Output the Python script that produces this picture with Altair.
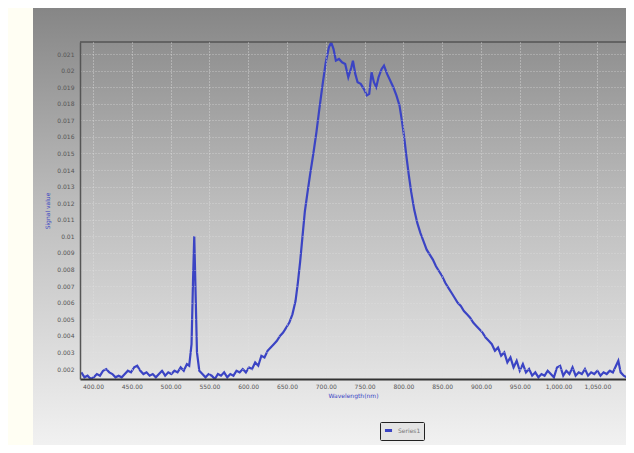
import altair as alt
import pandas as pd

wavelength = [385, 389, 393, 397, 401, 405, 409, 413, 417, 421, 425, 429, 433, 437, 441, 445, 449, 453, 457, 461,
              465, 469, 473, 477, 481, 485, 489, 493, 497, 501, 505, 509, 513, 517, 521, 524, 527, 529, 530.5, 532,
              534, 537, 541, 545, 549, 553, 557, 561, 565, 569, 573, 577, 581, 585, 589, 593, 597, 601, 605, 609,
              613, 617, 621, 625, 629, 633, 637, 641, 645, 649, 653, 657, 661, 664, 667, 670, 673, 676, 680, 684,
              688, 692, 696, 700, 704, 707, 710, 713, 717, 721, 725, 729, 733, 735, 738, 741, 745, 749, 753, 756,
              759, 762, 765, 768, 772, 775, 779, 783, 787, 791, 795, 798, 801, 804, 807, 810, 814, 818, 822, 826,
              830, 834, 838, 842, 846, 850, 854, 858, 862, 866, 870, 874, 878, 882, 886, 890, 894, 898, 902, 906,
              910, 914, 918, 922, 926, 930, 934, 938, 942, 946, 950, 954, 958, 962, 966, 970, 974, 978, 982, 986,
              990, 994, 998, 1002, 1006, 1010, 1014, 1018, 1022, 1026, 1030, 1034, 1038, 1042, 1046, 1050, 1054,
              1058, 1062, 1066, 1070, 1074, 1077, 1080, 1084, 1088]
signal = [0.0018, 0.0015, 0.0016, 0.0014, 0.0015, 0.0017, 0.0016, 0.0019, 0.0020, 0.0018, 0.0017, 0.0015, 0.0016,
          0.0015, 0.0017, 0.0019, 0.0018, 0.0021, 0.0022, 0.0019, 0.0017, 0.0018, 0.0016, 0.0017, 0.0015, 0.0017,
          0.0019, 0.0016, 0.0018, 0.0017, 0.0019, 0.0018, 0.0021, 0.0019, 0.0023, 0.0022, 0.0035, 0.0075, 0.0100,
          0.0070, 0.0030, 0.0019, 0.0017, 0.0015, 0.0017, 0.0016, 0.0014, 0.0017, 0.0016, 0.0018, 0.0015, 0.0017,
          0.0016, 0.0019, 0.0018, 0.0020, 0.0018, 0.0021, 0.0020, 0.0024, 0.0022, 0.0028, 0.0027, 0.0031, 0.0033,
          0.0035, 0.0037, 0.0040, 0.0042, 0.0045, 0.0048, 0.0053, 0.0061, 0.0072, 0.0085, 0.0100, 0.0115, 0.0125,
          0.0138, 0.0150, 0.0163, 0.0178, 0.0192, 0.0205, 0.0214, 0.0217, 0.0213, 0.0206, 0.0207, 0.0205, 0.0204,
          0.0196, 0.0202, 0.0206, 0.0198, 0.0193, 0.0192, 0.0189, 0.0185, 0.0186, 0.0199, 0.0193, 0.0190, 0.0196,
          0.0201, 0.0203, 0.0198, 0.0194, 0.0190, 0.0185, 0.0179, 0.0170, 0.0160, 0.0148, 0.0137, 0.0127, 0.0116,
          0.0108, 0.0102, 0.0097, 0.0092, 0.0089, 0.0086, 0.0082, 0.0079, 0.0076, 0.0072, 0.0069, 0.0066, 0.0063,
          0.0060, 0.0058, 0.0055, 0.0053, 0.0051, 0.0048, 0.0046, 0.0044, 0.0042, 0.0039, 0.0037, 0.0035, 0.0031,
          0.0033, 0.0028, 0.0030, 0.0024, 0.0027, 0.0021, 0.0025, 0.0019, 0.0023, 0.0018, 0.0020, 0.0016, 0.0018,
          0.0015, 0.0017, 0.0016, 0.0019, 0.0017, 0.0015, 0.0021, 0.0022, 0.0016, 0.0019, 0.0017, 0.0021, 0.0016,
          0.0018, 0.0017, 0.0020, 0.0016, 0.0018, 0.0017, 0.0019, 0.0016, 0.0018, 0.0017, 0.0019, 0.0018, 0.0022,
          0.0025, 0.0018, 0.0016, 0.0015]
x_ticks = [400, 450, 500, 550, 600, 650, 700, 750, 800, 850, 900, 950, 1000, 1050, 1100]
y_ticks = [0.002, 0.003, 0.004, 0.005, 0.006, 0.007, 0.008, 0.009, 0.010, 0.011, 0.012, 0.013, 0.014, 0.015,
           0.016, 0.017, 0.018, 0.019, 0.020, 0.021]
series_name = ["Series1"]
x_domain = [383.25, 1086.9]
y_domain = [0.0014, 0.021724]

df = pd.DataFrame({"wavelength": wavelength, "signal": signal, "series": series_name[0]})
one = pd.DataFrame({"k": [0]})

W, H = 546, 337
BLUE = "#3b44c4"

grad = alt.LinearGradient(
    gradient="linear",
    stops=[alt.GradientStop(color="#868686", offset=0),
           alt.GradientStop(color="#bdbdbd", offset=0.45),
           alt.GradientStop(color="#f2f2f2", offset=1)],
    x1=0, x2=0, y1=0, y2=1,
)

bg = alt.Chart(one).mark_rect(fill=grad).encode(
    x=alt.value(-47), x2=alt.value(W + 20), y=alt.value(-34), y2=alt.value(H + 70)
)

top_rule = alt.Chart(one).mark_rule(color="#555555", strokeWidth=1.5).encode(
    x=alt.value(0), x2=alt.value(W + 10), y=alt.value(0)
)

line = alt.Chart(df).mark_line(clip=True, strokeWidth=2.2).encode(
    x=alt.X("wavelength:Q",
            scale=alt.Scale(domain=x_domain, nice=False, zero=False),
            axis=alt.Axis(values=x_ticks, format=",.2f", labelFontSize=6, labelColor="#555555",
                          labelFont="DejaVu Sans", ticks=False, labelPadding=4,
                          domainColor="#333333", domainWidth=2,
                          grid=True, gridColor="#e2e2e2", gridDash=[1, 2], gridOpacity=0.8,
                          title="Wavelength(nm)", titleColor=BLUE, titleFontSize=6,
                          titleFont="DejaVu Sans", titleFontWeight="normal", titlePadding=3,
                          zindex=1, labelOverlap=False)),
    y=alt.Y("signal:Q",
            scale=alt.Scale(domain=y_domain, nice=False, zero=False),
            axis=alt.Axis(values=y_ticks, format=".3~f", labelFontSize=6, labelColor="#555555",
                          labelFont="DejaVu Sans", ticks=False, labelPadding=6,
                          domainColor="#555555", domainWidth=1.5,
                          grid=True, gridColor="#e2e2e2", gridDash=[1, 2], gridOpacity=0.6,
                          title="Signal value", titleColor=BLUE, titleFontSize=6,
                          titleFont="DejaVu Sans", titleFontWeight="normal", titlePadding=6,
                          zindex=1, labelOverlap=False)),
    color=alt.Color("series:N", scale=alt.Scale(range=[BLUE]),
                    legend=alt.Legend(title=None, orient="none", legendX=300, legendY=380,
                                      fillColor="#e4e4e4", strokeColor="#222222", padding=3,
                                      cornerRadius=1, symbolType="stroke", symbolStrokeWidth=3,
                                      symbolSize=50, labelFontSize=6, labelColor="#777777",
                                      labelFont="DejaVu Sans")),
)

chart = alt.layer(bg, line, top_rule).properties(
    width=W, height=H,
    autosize=alt.AutoSizeParams(type="none"),
    padding={"left": 72, "top": 34, "right": 0, "bottom": 66},
    background="#fffef3",
).configure_view(strokeWidth=0)

chart.save("out.html", embed_options={"renderer": "svg", "actions": False})
